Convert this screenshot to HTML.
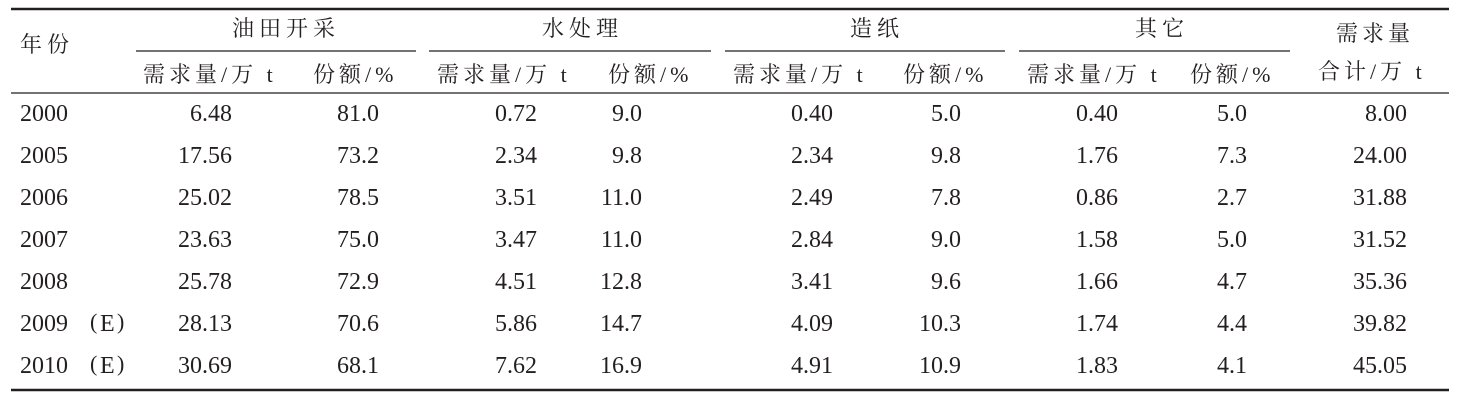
<!DOCTYPE html>
<html><head><meta charset="utf-8"><style>
html,body{margin:0;padding:0;background:#fff;}
svg{display:block;}
text{font-family:"Liberation Serif","Noto Serif CJK SC",serif;fill:#231f20;}
.c{font-family:"Liberation Serif","Noto Serif CJK SC","Noto Sans CJK SC",serif;font-size:22px;letter-spacing:4px;}
.t{font-size:22px;letter-spacing:5px;}
.n{font-size:24px;}
</style></head><body>
<svg width="1477" height="405" viewBox="0 0 1477 405" xmlns="http://www.w3.org/2000/svg">
<g stroke="#231f20">
<line x1="11" y1="9" x2="1449" y2="9" stroke-width="2.5"/>
<line x1="136" y1="51" x2="416" y2="51" stroke-width="1.3"/>
<line x1="429" y1="51" x2="711" y2="51" stroke-width="1.3"/>
<line x1="725" y1="51" x2="1005" y2="51" stroke-width="1.3"/>
<line x1="1019" y1="51" x2="1290" y2="51" stroke-width="1.3"/>
<line x1="11" y1="93" x2="1449" y2="93" stroke-width="1.2"/>
<line x1="11" y1="390" x2="1449" y2="390" stroke-width="2.5"/>
</g>
<g class="c">
<text x="20" y="52" class="t">年份</text>
<text x="232" y="36" class="t">油田开采</text>
<text x="542" y="36" class="t">水处理</text>
<text x="850" y="36" class="t">造纸</text>
<text x="1135" y="36" class="t">其它</text>
<text x="1336" y="41">需求量</text>
<text x="1318" y="79">合计/万 t</text>
<text x="143" y="82">需求量/万 t</text>
<text x="313" y="82">份额/%</text>
<text x="437" y="82">需求量/万 t</text>
<text x="608" y="82">份额/%</text>
<text x="733" y="82">需求量/万 t</text>
<text x="903" y="82">份额/%</text>
<text x="1027" y="82">需求量/万 t</text>
<text x="1190" y="82">份额/%</text>
</g>
<g class="n">
<text x="20" y="121">2000</text>
<text x="20" y="163">2005</text>
<text x="20" y="205">2006</text>
<text x="20" y="247">2007</text>
<text x="20" y="289">2008</text>
<text x="20" y="331">2009</text><text x="90" y="329" font-size="22">(</text><text x="100" y="331">E</text><text x="117" y="329" font-size="22">)</text>
<text x="20" y="373">2010</text><text x="90" y="371" font-size="22">(</text><text x="100" y="373">E</text><text x="117" y="371" font-size="22">)</text>
</g>
<g class="n" text-anchor="end">
<text x="232" y="121">6.48</text><text x="379" y="121">81.0</text><text x="537" y="121">0.72</text><text x="642" y="121">9.0</text><text x="833" y="121">0.40</text><text x="961" y="121">5.0</text><text x="1118" y="121">0.40</text><text x="1247" y="121">5.0</text><text x="1407" y="121">8.00</text>
<text x="232" y="163">17.56</text><text x="379" y="163">73.2</text><text x="537" y="163">2.34</text><text x="642" y="163">9.8</text><text x="833" y="163">2.34</text><text x="961" y="163">9.8</text><text x="1118" y="163">1.76</text><text x="1247" y="163">7.3</text><text x="1407" y="163">24.00</text>
<text x="232" y="205">25.02</text><text x="379" y="205">78.5</text><text x="537" y="205">3.51</text><text x="642" y="205">11.0</text><text x="833" y="205">2.49</text><text x="961" y="205">7.8</text><text x="1118" y="205">0.86</text><text x="1247" y="205">2.7</text><text x="1407" y="205">31.88</text>
<text x="232" y="247">23.63</text><text x="379" y="247">75.0</text><text x="537" y="247">3.47</text><text x="642" y="247">11.0</text><text x="833" y="247">2.84</text><text x="961" y="247">9.0</text><text x="1118" y="247">1.58</text><text x="1247" y="247">5.0</text><text x="1407" y="247">31.52</text>
<text x="232" y="289">25.78</text><text x="379" y="289">72.9</text><text x="537" y="289">4.51</text><text x="642" y="289">12.8</text><text x="833" y="289">3.41</text><text x="961" y="289">9.6</text><text x="1118" y="289">1.66</text><text x="1247" y="289">4.7</text><text x="1407" y="289">35.36</text>
<text x="232" y="331">28.13</text><text x="379" y="331">70.6</text><text x="537" y="331">5.86</text><text x="642" y="331">14.7</text><text x="833" y="331">4.09</text><text x="961" y="331">10.3</text><text x="1118" y="331">1.74</text><text x="1247" y="331">4.4</text><text x="1407" y="331">39.82</text>
<text x="232" y="373">30.69</text><text x="379" y="373">68.1</text><text x="537" y="373">7.62</text><text x="642" y="373">16.9</text><text x="833" y="373">4.91</text><text x="961" y="373">10.9</text><text x="1118" y="373">1.83</text><text x="1247" y="373">4.1</text><text x="1407" y="373">45.05</text>
</g>
</svg>
</body></html>
